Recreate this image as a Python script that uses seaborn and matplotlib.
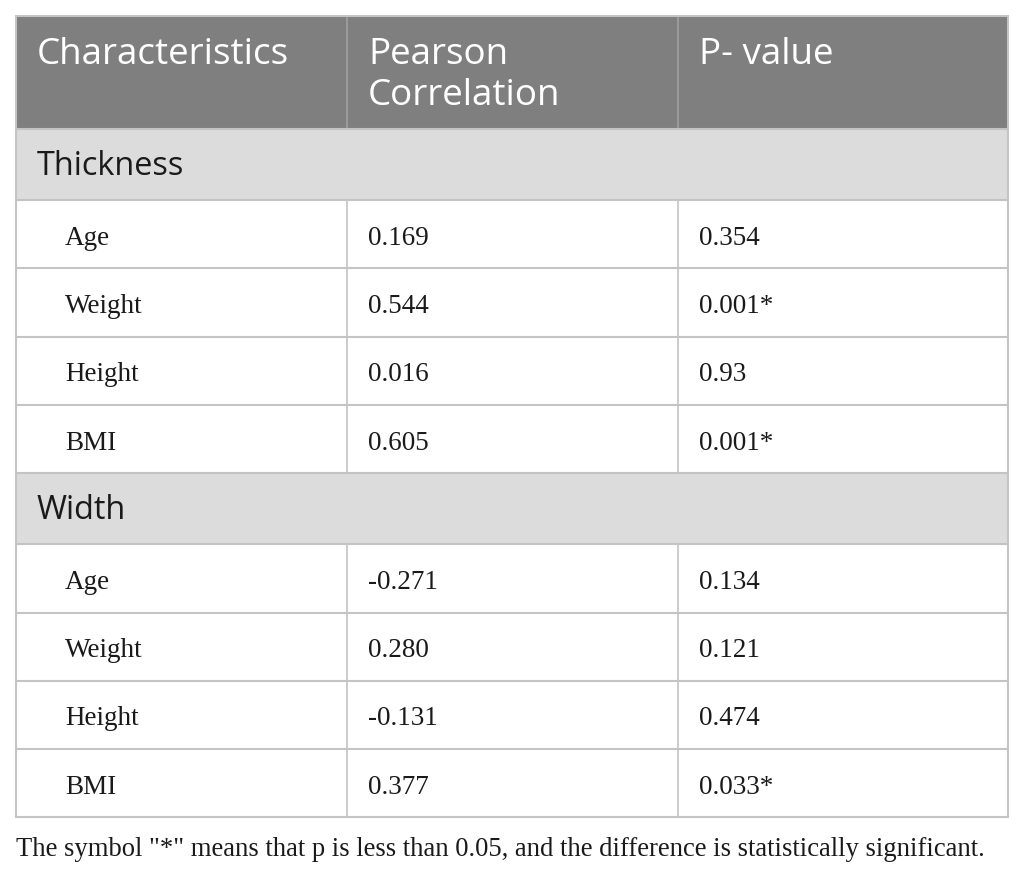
import seaborn as sns
import matplotlib.pyplot as plt
from matplotlib.patches import Rectangle

# table content
columns = ["Characteristics", "Pearson\nCorrelation", "P- value"]
sections = ["Thickness", "Width"]
items = ["Age", "Weight", "Height", "BMI"]
pearson_thickness = ["0.169", "0.544", "0.016", "0.605"]
p_thickness = ["0.354", "0.001*", "0.93", "0.001*"]
pearson_width = ["-0.271", "0.280", "-0.131", "0.377"]
p_width = ["0.134", "0.121", "0.474", "0.033*"]
footnote = 'The symbol "*" means that p is less than 0.05, and the difference is statistically significant.'

sns.set_theme(style="white")
plt.rcParams['font.family'] = ['Liberation Serif', 'DejaVu Serif']

# layout (pixels)
W, H = 1025, 875
col_edges = [16, 347, 678, 1008]
top = 16
head_h = 113
sec_h = 71
row_h = 68.3
pad = 21
indent = 49
head_color = "#7f7f7f"
sec_color = "#dcdcdc"
line_color = "#c4c4c4"
sans = ['Open Sans', 'DejaVu Sans']

fig = plt.figure(figsize=(W / 100, H / 100), dpi=100)
ax = fig.add_axes([0, 0, 1, 1])
ax.set_xlim(0, W)
ax.set_ylim(H, 0)
ax.axis("off")

left, right = col_edges[0], col_edges[-1]

# header
ax.add_patch(Rectangle((left, top), right - left, head_h, color=head_color, lw=0))
for x in col_edges[1:-1]:
    ax.plot([x, x], [top, top + head_h], color="#a0a0a0", lw=1.2)
for i, name in enumerate(columns):
    for j, line in enumerate(name.split("\n")):
        ax.text(col_edges[i] + pad, top + 39 + j * 41, line, color="white",
                fontsize=26.5, family=sans, va="center")

y = top + head_h
h_lines = [y]
blocks = [(sections[0], pearson_thickness, p_thickness),
          (sections[1], pearson_width, p_width)]
for sec, pear, pv in blocks:
    ax.add_patch(Rectangle((left, y), right - left, sec_h, color=sec_color, lw=0))
    ax.text(left + pad, y + sec_h / 2 + 2, sec, color="#1a1a1a", fontsize=23.4,
            family=sans, va="center")
    y += sec_h
    h_lines.append(y)
    for item, a, b in zip(items, pear, pv):
        yc = y + row_h / 2 + 4
        ax.text(left + indent, yc, item, fontsize=19.5, color="#1a1a1a", va="center")
        ax.text(col_edges[1] + pad, yc, a, fontsize=19.5, color="#1a1a1a", va="center")
        ax.text(col_edges[2] + pad, yc, b, fontsize=19.5, color="#1a1a1a", va="center")
        ax.plot([col_edges[1], col_edges[1]], [y, y + row_h], color=line_color, lw=1.2)
        ax.plot([col_edges[2], col_edges[2]], [y, y + row_h], color=line_color, lw=1.2)
        y += row_h
        h_lines.append(y)

for hy in h_lines:
    ax.plot([left, right], [hy, hy], color=line_color, lw=1.5)
ax.plot([left, left], [top, y], color=line_color, lw=1.5)
ax.plot([right, right], [top, y], color=line_color, lw=1.5)
ax.plot([left, right], [top, top], color=line_color, lw=1.5)

ax.text(left, 850, footnote, fontsize=19.2, color="#1a1a1a", va="center")

fig.savefig("out.png", dpi=100)
